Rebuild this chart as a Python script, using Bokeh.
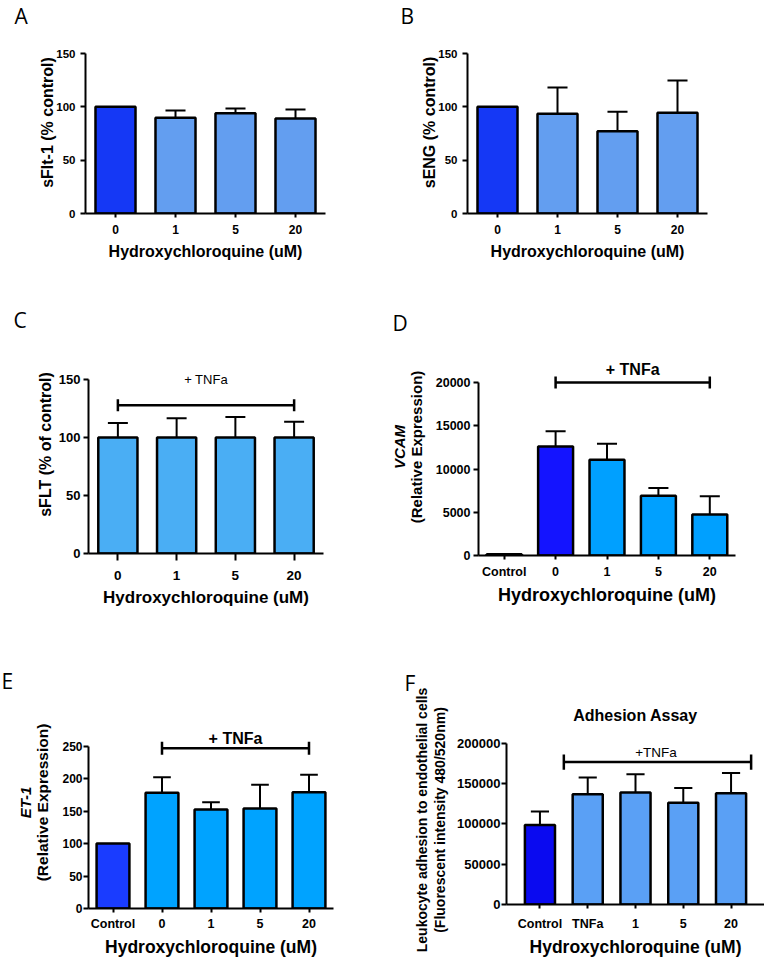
from bokeh.plotting import figure
from bokeh.layouts import column, row
from bokeh.models import (ColumnDataSource, FactorRange, Range1d, Title, LinearAxis,
                          FixedTicker, BasicTickFormatter)
from bokeh.transform import dodge
from bokeh.core.properties import value
from bokeh.embed import file_html
from bokeh.resources import INLINE

# ---------------- data ----------------
hcq_doses = ["0", "1", "5", "20"]
sflt1_mean = [100, 89.7, 94.1, 89.1]
sflt1_sd = [0, 6.9, 4.3, 8.4]
seng_mean = [100, 93.4, 77.2, 94.4]
seng_sd = [0, 24.7, 18.1, 30.3]
sflt_tnf_mean = [100, 100, 100, 100]
sflt_tnf_sd = [12.5, 16.5, 17.7, 13.6]

ctrl_doses = ["Control", "0", "1", "5", "20"]
vcam_mean = [150, 12600, 11080, 6920, 4730]
vcam_sd = [0, 1750, 1840, 890, 2120]
et1_mean = [100, 178.3, 152.7, 154.2, 179.3]
et1_sd = [0, 24.1, 11.2, 36.4, 26.7]

adh_groups = ["Control", "TNFa", "1", "5", "20"]
adh_mean = [98500, 136700, 138700, 126100, 137900]
adh_sd = [16700, 20700, 22600, 18400, 25100]

yticks_pct = [0, 50, 100, 150]
yticks_vcam = [0, 5000, 10000, 15000, 20000]
yticks_et1 = [0, 50, 100, 150, 200, 250]
yticks_adh = [0, 50000, 100000, 150000, 200000]

# bracket levels / label levels (data units)
tnf_bracket_c, tnf_text_c = 127.8, 150
tnf_bracket_d, tnf_text_d = 20000, 21500
tnf_bracket_e, tnf_text_e = 247, 262
tnf_bracket_f, tnf_text_f = 176500, 188600

XTITLE = "Hydroxychloroquine (uM)"
FONT = "Liberation Sans"
LFONT = "Open Sans"

# colours
A_FIRST, A_REST = "#1538F5", "#639EF0"
C_ALL = "#4AAEF4"
D_FIRST, D_REST = "#1414FF", "#00A0FF"
E_FIRST, E_REST = "#1A3CFF", "#00A3FF"
F_FIRST, F_REST = "#0A0AF0", "#5AA0F5"


def panel(cats, means, sds, colors, yticks, ylabel, g, bar_w, cap,
          ytick_fs, xtick_fs, ytitle_fs, xtitle_fs, letter, letter_off,
          pad=0.0, y_std=5, x_std=7, ytitle_std=-3, xtitle_std=6,
          xtick_out=4, bracket=None, extra=(), title=None):
    W, H = g["w"], g["h"]
    fl, fr, ft, y0, ytop = g["fl"], g["fr"], g["ft"], g["y0"], g["ytop"]
    ymax = yticks[-1]
    yend = ymax * (y0 - ft) / (y0 - ytop)
    pxu = (y0 - ytop) / ymax

    xr = FactorRange(*cats, range_padding=pad, range_padding_units="absolute")
    p = figure(width=W, height=H, x_range=xr, y_range=Range1d(0, yend),
               output_backend="svg", toolbar_location=None,
               min_border_left=fl, min_border_right=W - fr,
               min_border_top=ft, min_border_bottom=H - y0)
    if "frame_align" in p.properties():
        p.frame_align = False
    p.outline_line_color = None
    p.xgrid.grid_line_color = None
    p.ygrid.grid_line_color = None
    p.background_fill_color = "white"
    p.border_fill_color = "white"

    # panel letter = plot title (outermost); optional chart title below it
    p.title.text = letter
    p.title.align = "left"
    p.title.offset = letter_off
    p.title.standoff = 0
    p.title.text_font = LFONT
    p.title.text_font_size = "21px"
    p.title.text_font_style = "normal"
    p.title.text_color = "black"
    if title is not None:
        ttxt, tfs, tstd = title
        p.title.vertical_align = "bottom"
        p.add_layout(Title(text=ttxt, align="center", vertical_align="top",
                           standoff=tstd, text_font=FONT, text_font_size=tfs,
                           text_font_style="bold", text_color="black"), "above")
    else:
        p.title.vertical_align = "top"

    ya = p.yaxis[0]
    ya.ticker = FixedTicker(ticks=yticks)
    ya.formatter = BasicTickFormatter(use_scientific=False)
    ya.bounds = (0, ymax)
    ya.axis_line_width = 2
    ya.major_tick_line_width = 2
    ya.major_tick_out = 5
    ya.major_tick_in = 0
    ya.minor_tick_line_color = None
    ya.major_label_text_font = FONT
    ya.major_label_text_font_style = "bold"
    ya.major_label_text_font_size = ytick_fs
    ya.major_label_text_color = "black"
    ya.major_label_standoff = y_std
    ya.axis_label = ylabel
    ya.axis_label_text_font = FONT
    ya.axis_label_text_font_style = "bold"
    ya.axis_label_text_font_size = ytitle_fs
    ya.axis_label_text_color = "black"
    ya.axis_label_standoff = ytitle_std

    # further y-title lines as label-only axes stacked outward
    for (etxt, efs, estyle, estd, ecy) in extra:
        ax2 = LinearAxis(axis_label=etxt, ticker=FixedTicker(ticks=[]),
                         axis_line_color=None, major_tick_line_color=None,
                         minor_tick_line_color=None, major_tick_out=0, major_tick_in=0,
                         minor_tick_out=0, minor_tick_in=0, major_label_standoff=0,
                         axis_label_standoff=estd, axis_label_text_font=FONT,
                         axis_label_text_font_size=efs, axis_label_text_font_style=estyle,
                         axis_label_text_color="black")
        if ecy is not None:
            c = (y0 - ecy) / pxu
            ax2.bounds = (c - 1, c + 1)
        p.add_layout(ax2, "left")

    xa = p.xaxis[0]
    xa.axis_line_width = 2
    xa.major_tick_line_width = 2
    xa.major_tick_out = xtick_out
    xa.major_tick_in = 0
    xa.major_label_text_font = FONT
    xa.major_label_text_font_style = "bold"
    xa.major_label_text_font_size = xtick_fs
    xa.major_label_text_color = "black"
    xa.major_label_standoff = x_std
    xa.axis_label = XTITLE
    xa.axis_label_text_font = FONT
    xa.axis_label_text_font_style = "bold"
    xa.axis_label_text_font_size = xtitle_fs
    xa.axis_label_text_color = "black"
    xa.axis_label_standoff = xtitle_std

    src = ColumnDataSource(dict(cat=list(cats), mean=list(means), color=list(colors)))
    ecat = [c for c, s in zip(cats, sds) if s > 0]
    emean = [m for m, s in zip(means, sds) if s > 0]
    eup = [m + s for m, s in zip(means, sds) if s > 0]
    esrc = ColumnDataSource(dict(cat=ecat, mean=emean, upper=eup))
    p.segment(x0="cat", y0="mean", x1="cat", y1="upper", source=esrc,
              line_color="black", line_width=2)
    p.segment(x0=dodge("cat", -cap, range=xr), x1=dodge("cat", cap, range=xr),
              y0="upper", y1="upper", source=esrc, line_color="black", line_width=2)
    p.vbar(x="cat", top="mean", bottom=0, width=bar_w, source=src,
           fill_color="color", line_color="black", line_width=2.5)

    if bracket is not None:
        b = bracket
        h = b["tick_px"] / pxu
        bsrc = ColumnDataSource(dict(start=[b["start"]], end=[b["end"]],
                                     lev=[b["level"]], lo=[b["level"] - h],
                                     hi=[b["level"] + h]))
        p.segment(x0=dodge("start", b["soff"], range=xr), x1=dodge("end", b["eoff"], range=xr),
                  y0="lev", y1="lev", source=bsrc, line_color="black", line_width=2.5)
        p.segment(x0=dodge("start", b["soff"], range=xr), x1=dodge("start", b["soff"], range=xr),
                  y0="lo", y1="hi", source=bsrc, line_color="black", line_width=2.5)
        p.segment(x0=dodge("end", b["eoff"], range=xr), x1=dodge("end", b["eoff"], range=xr),
                  y0="lo", y1="hi", source=bsrc, line_color="black", line_width=2.5)
        tsrc = ColumnDataSource(dict(pos=[b["tpos"]], ty=[b["tlevel"]], label=[b["text"]]))
        p.text(x=dodge("pos", b["toff"], range=xr), y="ty", text="label", source=tsrc,
               text_align="center", text_baseline="middle",
               text_font=value(FONT), text_font_size=value(b["fs"]),
               text_font_style=b["style"], text_color="black")
    return p


pA = panel(hcq_doses, sflt1_mean, sflt1_sd, [A_FIRST] + [A_REST] * 3, yticks_pct,
           "sFlt-1 (% control)",
           dict(w=382, h=280, fl=85, fr=325, ft=31, y0=213, ytop=53),
           bar_w=0.667, cap=0.167, ytick_fs="11.5px", xtick_fs="12px",
           ytitle_fs="16px", xtitle_fs="16px", letter="A", letter_off=14 - 85)

pB = panel(hcq_doses, seng_mean, seng_sd, [A_FIRST] + [A_REST] * 3, yticks_pct,
           "sENG (% control)",
           dict(w=382, h=280, fl=85, fr=325, ft=31, y0=213, ytop=53),
           bar_w=0.667, cap=0.167, ytick_fs="11.5px", xtick_fs="12px",
           ytitle_fs="16px", xtitle_fs="16px", letter="B", letter_off=18 - 85)

pC = panel(hcq_doses, sflt_tnf_mean, sflt_tnf_sd, [C_ALL] * 4, yticks_pct,
           "sFLT (% of control)",
           dict(w=382, h=340, fl=88, fr=323, ft=55, y0=273, ytop=99),
           bar_w=0.667, cap=0.17, ytick_fs="13px", xtick_fs="13.5px",
           ytitle_fs="16px", xtitle_fs="17px", letter="C", letter_off=13 - 88,
           x_std=10, xtick_out=7, xtitle_std=5, y_std=3, ytitle_std=2,
           bracket=dict(start="0", end="20", soff=0, eoff=0, level=tnf_bracket_c,
                        tick_px=6, tpos="1", toff=0.5, tlevel=tnf_text_c,
                        text="+ TNFa", fs="13px", style="normal"))

pD = panel(ctrl_doses, vcam_mean, vcam_sd, [D_REST, D_FIRST] + [D_REST] * 3, yticks_vcam,
           None,
           dict(w=382, h=340, fl=96, fr=353, ft=58, y0=275, ytop=102),
           bar_w=0.68, cap=0.195, ytick_fs="12.5px", xtick_fs="12.5px",
           ytitle_fs="15px", xtitle_fs="18px", letter="D", letter_off=10 - 96,
           x_std=5, y_std=3, ytitle_std=8, xtitle_std=3,
           bracket=dict(start="0", end="20", soff=0, eoff=0, level=tnf_bracket_d,
                        tick_px=6, tpos="1", toff=0.5, tlevel=tnf_text_d,
                        text="+ TNFa", fs="16px", style="bold"),
           extra=[("(Relative Expression)", "15px", "bold", 8, 177),
                  ("VCAM", "15px", "bold italic", -3, 178)])

pE = panel(ctrl_doses, et1_mean, et1_sd, [E_FIRST] + [E_REST] * 4, yticks_et1,
           "(Relative Expression)",
           dict(w=382, h=339, fl=88, fr=333, ft=76, y0=289, ytop=126),
           bar_w=0.67, cap=0.18, ytick_fs="12px", xtick_fs="12.5px",
           ytitle_fs="15.5px", xtitle_fs="17.5px", letter="E", letter_off=1 - 88,
           x_std=4, y_std=1, ytitle_std=8, xtitle_std=3,
           bracket=dict(start="0", end="20", soff=0, eoff=0, level=tnf_bracket_e,
                        tick_px=6.5, tpos="1", toff=0.5, tlevel=tnf_text_e,
                        text="+ TNFa", fs="16px", style="bold"),
           extra=[("ET-1", "15px", "bold italic", -2, 214)])

pF = panel(adh_groups, adh_mean, adh_sd, [F_FIRST] + [F_REST] * 4, yticks_adh,
           "(Fluorescent intensity 480/520nm)",
           dict(w=382, h=339, fl=124, fr=382, ft=115, y0=293, ytop=123),
           bar_w=0.63, cap=0.19, ytick_fs="13px", xtick_fs="12.5px",
           ytitle_fs="14px", xtitle_fs="17.5px", letter="F", letter_off=22 - 124,
           pad=0.2, x_std=8, y_std=1, ytitle_std=6, xtitle_std=3,
           bracket=dict(start="TNFa", end="20", soff=-0.5, eoff=0.42, level=tnf_bracket_f,
                        tick_px=8, tpos="1", toff=0.43, tlevel=tnf_text_f,
                        text="+TNFa", fs="13.5px", style="normal"),
           extra=[("Leukocyte adhesion to endothelial cells", "14px", "bold", 0, None)],
           title=("Adhesion Assay", "16px", 20))

layout = column(row(pA, pB), row(pC, pD), row(pE, pF))
open("out.html", "w").write(file_html(layout, INLINE))
